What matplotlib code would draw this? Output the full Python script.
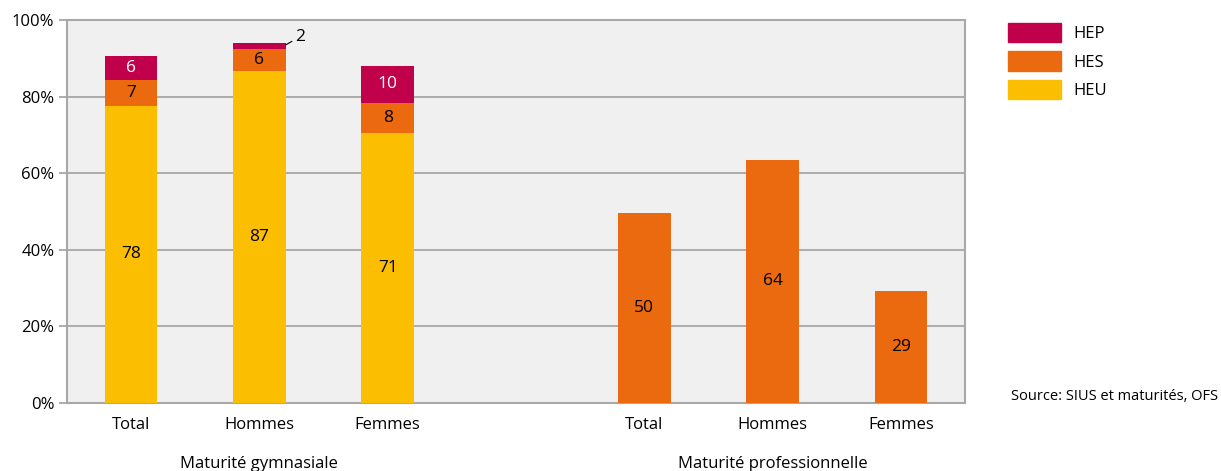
import numpy as np
from matplotlib import pyplot as plt
from matplotlib.patches import Patch

plt.rcParams['font.family'] = ['Open Sans', 'DejaVu Sans']

# data
categories = ["Total", "Hommes", "Femmes", "Total", "Hommes", "Femmes"]
groups = ["Maturité gymnasiale", "Maturité professionnelle"]
heu = [77.6, 86.6, 70.6, 0, 0, 0]
hes = [6.8, 5.8, 7.8, 49.6, 63.5, 29.2]
hep = [6.2, 1.7, 9.6, 0, 0, 0]
heu_lab = ["78", "87", "71", "", "", ""]
hes_lab = ["7", "6", "8", "50", "64", "29"]
hep_lab = ["6", "2", "10", "", "", ""]

c_hep = "#c0004a"
c_hes = "#eb690f"
c_heu = "#fbbe00"

x = np.array([0, 1, 2, 4, 5, 6])
w = 0.41

fig = plt.figure(figsize=(12.21, 4.71), dpi=100)
ax = fig.add_axes([67/1221, 1-403/471, 898/1221, 383/471])
ax.set_facecolor("#eff0ef")

heu = np.array(heu)
hes = np.array(hes)
hep = np.array(hep)
ax.bar(x, heu, w, color=c_heu, zorder=3)
ax.bar(x, hes, w, bottom=heu, color=c_hes, zorder=3)
ax.bar(x, hep, w, bottom=heu + hes, color=c_hep, zorder=3)

fs = 12.5
for i in range(len(x)):
    if heu_lab[i]:
        ax.text(x[i], heu[i] / 2, heu_lab[i], ha="center", va="center", fontsize=fs, zorder=4)
    if hes_lab[i]:
        ax.text(x[i], heu[i] + hes[i] / 2, hes_lab[i], ha="center", va="center", fontsize=fs, zorder=4)
    if hep_lab[i]:
        if hep[i] < 3:
            top = heu[i] + hes[i] + hep[i]
            ax.annotate(hep_lab[i], xy=(x[i] + w / 2, top - 0.6), xytext=(x[i] + w / 2 + 0.07, top + 1.5),
                        fontsize=fs, va="center", ha="left", zorder=4,
                        arrowprops=dict(arrowstyle="-", color="black", lw=0.8, shrinkA=0, shrinkB=0))
        else:
            ax.text(x[i], heu[i] + hes[i] + hep[i] / 2, hep_lab[i], ha="center", va="center",
                    fontsize=fs, color="white", zorder=4)

ax.set_xlim(-0.5, 6.5)
ax.set_ylim(0, 100)
ax.set_yticks(np.arange(0, 101, 20))
ax.set_yticklabels([f"{v}%" for v in range(0, 101, 20)], fontsize=12)
ax.set_xticks(x)
ax.set_xticklabels(categories, fontsize=12)
ax.tick_params(axis="x", length=0, pad=10)
ax.tick_params(axis="y", length=6, width=1.2, color="#a0a0a0", pad=3)
ax.yaxis.grid(True, color="#a0a0a0", lw=1.2, zorder=1)
for s in ax.spines.values():
    s.set_color("#a8a8a8")
    s.set_linewidth(1.5)

ax.text(1, -15.8, groups[0], ha="center", va="center", fontsize=12, clip_on=False)
ax.text(5, -15.8, groups[1], ha="center", va="center", fontsize=12, clip_on=False)

handles = [Patch(color=c_hep, label="HEP"), Patch(color=c_hes, label="HES"), Patch(color=c_heu, label="HEU")]
fig.legend(handles=handles, loc="upper left", bbox_to_anchor=(993/1221, 1-8/471), frameon=False,
           fontsize=12, handlelength=3.2, handleheight=1.4, labelspacing=0.55, handletextpad=0.7)

fig.text(1218/1221, 1-397/471, "Source: SIUS et maturités, OFS", ha="right", va="center", fontsize=10.5)

plt.savefig("out.png")
